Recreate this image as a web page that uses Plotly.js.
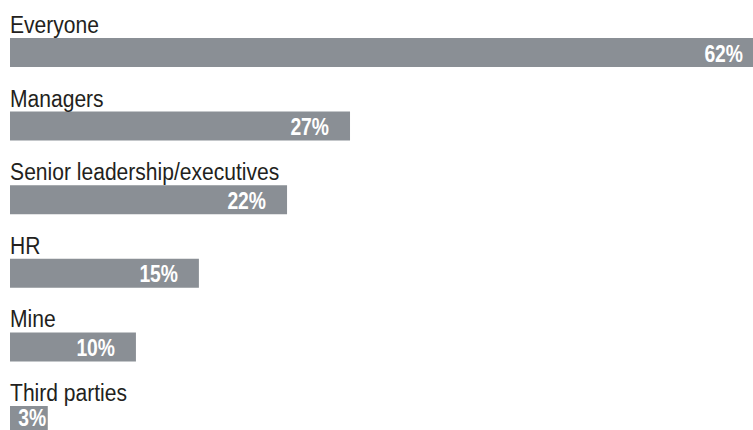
<!DOCTYPE html>
<html>
<head>
<meta charset="utf-8">
<script src="https://cdn.plot.ly/plotly-3.0.1.min.js"></script>
<style>
html,body{margin:0;padding:0;background:#fff;}
#chart{width:753px;height:430px;}
</style>
</head>
<body>
<div id="chart"></div>
<script>
const categories = ["Everyone", "Managers", "Senior leadership/executives", "HR", "Mine", "Third parties"];
const values = [62, 27, 22, 15, 10, 3];
const valueLabels = ["62%", "27%", "22%", "15%", "10%", "3%"];

const XMAX = 59;
const BAR_COLOR = "#8a8f95";
const FONT = "Liberation Sans, Arial, sans-serif";
const LABEL_SIZE = 24.5, LABEL_SCALE = 0.86;
const PCT_SIZE = 23, PCT_SCALE = 0.84;
const W = 753, H = 430;
const plotW = 743;
const pxPerUnit = plotW / XMAX;

const bandPx = 73.6;
const firstCenter = 52.5;
const yTop = -firstCenter / bandPx;
const yBottom = yTop + H / bandPx;

function measure(txt, css) {
  const c = document.createElement('canvas').getContext('2d');
  c.font = css;
  return c.measureText(txt).width;
}

const annotations = [];
categories.forEach((c, i) => {
  annotations.push({
    x: 0, y: c, xref: 'x', yref: 'y',
    text: c, showarrow: false,
    xanchor: 'left', yanchor: 'bottom',
    borderpad: 0, borderwidth: 0,
    xshift: 0, yshift: 14.5,
    font: {family: FONT, size: LABEL_SIZE, color: '#231f20'}
  });
  const v = values[i];
  const clipped = v > XMAX;
  const barEnd = Math.min(v, XMAX) * pxPerUnit;
  const textW = measure(valueLabels[i], 'bold ' + PCT_SIZE + 'px "Liberation Sans"') * PCT_SCALE;
  let target;
  if (clipped) target = barEnd - 10;
  else target = Math.max(barEnd - 21, 8 + textW);
  // keep the value text inside the picture when a bar runs off the bottom edge
  const centerPx = (i - yTop) * bandPx;
  const capHalf = 0.36 * PCT_SIZE;
  let ys = -1;
  if (centerPx + capHalf - ys > H - 4) ys = centerPx + capHalf - (H - 4);
  annotations.push({
    x: Math.min(v, XMAX), y: c, xref: 'x', yref: 'y',
    text: '<b>' + valueLabels[i] + '</b>', showarrow: false,
    xanchor: 'right', yanchor: 'middle',
    borderpad: 0, borderwidth: 0,
    xshift: target - barEnd, yshift: ys,
    font: {family: FONT, size: PCT_SIZE, color: '#ffffff'}
  });
});

const trace = {
  type: 'bar', orientation: 'h',
  x: values, y: categories,
  marker: {color: BAR_COLOR, line: {width: 0}},
  hoverinfo: 'none', textposition: 'none'
};

const layout = {
  width: W, height: H,
  margin: {l: 10, r: 0, t: 0, b: 0, pad: 0},
  paper_bgcolor: '#ffffff', plot_bgcolor: '#ffffff',
  showlegend: false,
  bargap: 1 - 29 / bandPx,
  xaxis: {range: [0, XMAX], visible: false, fixedrange: true},
  yaxis: {type: 'category', range: [yBottom, yTop], visible: false, fixedrange: true},
  annotations: annotations
};

Plotly.newPlot('chart', [trace], layout, {displayModeBar: false, staticPlot: true}).then(gd => {
  // emulate a condensed face by narrowing each text horizontally about its anchor side
  gd.querySelectorAll('g.annotation').forEach((g, idx) => {
    const t = g.querySelector('text.annotation-text');
    if (!t) return;
    const isPct = idx % 2 === 1;
    const s = isPct ? PCT_SCALE : LABEL_SCALE;
    const bb = t.getBBox();
    const p = isPct ? bb.x + bb.width : bb.x;
    t.setAttribute('transform', `translate(${p},0) scale(${s},1) translate(${-p},0)`);
  });
});
</script>
</body>
</html>
